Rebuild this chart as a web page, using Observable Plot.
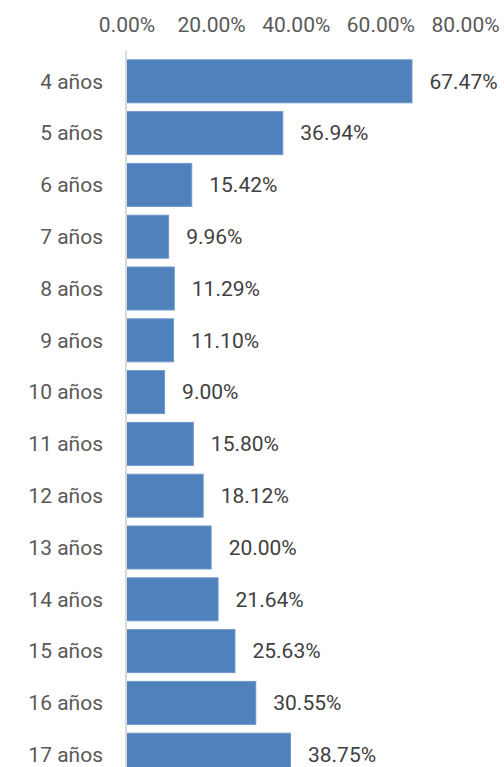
<!DOCTYPE html>
<html>
<head>
<meta charset="utf-8">
<script src="https://cdn.jsdelivr.net/npm/d3@7"></script>
<script src="https://cdn.jsdelivr.net/npm/@observablehq/plot@0.6"></script>
<style>
  html, body { margin: 0; padding: 0; background: #fff; overflow: hidden; }
  #chart svg { display: block; }
</style>
</head>
<body>
<div id="chart"></div>
<script>
const categories = ["4 años","5 años","6 años","7 años","8 años","9 años","10 años","11 años","12 años","13 años","14 años","15 años","16 años","17 años"];
const values = [67.47, 36.94, 15.42, 9.96, 11.29, 11.10, 9.00, 15.80, 18.12, 20.00, 21.64, 25.63, 30.55, 38.75];
const xTicks = [0, 20, 40, 60, 80];

const data = categories.map((c, i) => ({cat: c, v: values[i]}));
const fmt = v => v.toFixed(2) + "%";

const chart = Plot.plot({
  width: 504,
  height: 785,
  marginTop: 51,
  marginBottom: 0,
  marginLeft: 126.5,
  marginRight: 39,
  style: {fontFamily: "Roboto, 'Open Sans', sans-serif", fontSize: "21px", background: "#fff"},
  x: {domain: [0, 80], ticks: xTicks},
  y: {domain: categories, padding: 0.17, round: false},
  marks: [
    Plot.axisX({anchor: "top", ticks: xTicks, tickSize: 0, tickPadding: 20, tickFormat: fmt, label: null, fill: "#595959", fontSize: 21}),
    Plot.axisY({tickSize: 0, tickPadding: 24, label: null, fill: "#595959", fontSize: 21}),
    Plot.barX(data, {x: "v", y: "cat", fill: "#4f81bd", stroke: "#6f98c9", strokeWidth: 1}),
    Plot.ruleX([0], {stroke: "#d9d9d9", strokeWidth: 2, dx: -1}),
    Plot.text(data, {x: "v", y: "cat", text: d => fmt(d.v), textAnchor: "start", dx: 17, fill: "#404040", fontSize: 21})
  ]
});
document.getElementById("chart").appendChild(chart);
</script>
</body>
</html>
